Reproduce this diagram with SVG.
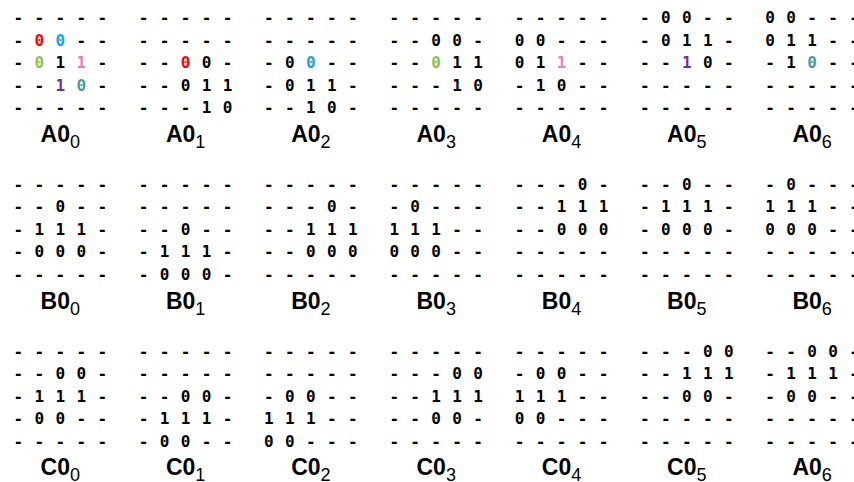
<svg xmlns="http://www.w3.org/2000/svg" width="854" height="482" viewBox="0 0 854 482">
<style>
.g{font-family:"DejaVu Sans Mono","Liberation Mono",monospace;font-weight:bold;font-size:16px;text-anchor:middle;fill:#000}
.lb{font-family:"Liberation Sans",Arial,sans-serif;font-weight:bold;font-size:23px;text-anchor:middle;fill:#000}
.sb{font-weight:normal;font-size:18px}
.r{fill:#ff0000}.b{fill:#1ba1e2}.gr{fill:#8cc152}.p{fill:#e67fbe}.pu{fill:#7030a0}.t{fill:#4a98a4}
</style>
<rect width="854" height="482" fill="#fff"/>
<!-- Row A -->
<g id="A0_0" transform="translate(18.3,0)">
<text class="g" x="0 21 42 63 84" y="23.3">-----</text>
<text class="g" x="0" y="45.8">-<tspan class="r" x="21">0</tspan><tspan class="b" x="42">0</tspan><tspan x="63">-</tspan><tspan x="84">-</tspan></text>
<text class="g" x="0" y="68.3">-<tspan class="gr" x="21">0</tspan><tspan x="42">1</tspan><tspan class="p" x="63">1</tspan><tspan x="84">-</tspan></text>
<text class="g" x="0 21" y="90.8">--<tspan class="pu" x="42">1</tspan><tspan class="t" x="63">0</tspan><tspan x="84">-</tspan></text>
<text class="g" x="0 21 42 63 84" y="113.3">-----</text>
<text class="lb" x="42" y="142">A0<tspan class="sb" dy="6">0</tspan></text>
</g>
<g id="A0_1" transform="translate(143.6,0)">
<text class="g" x="0 21 42 63 84" y="23.3">-----</text>
<text class="g" x="0 21 42 63 84" y="45.8">-----</text>
<text class="g" x="0 21" y="68.3">--<tspan class="r" x="42">0</tspan><tspan x="63 84">0-</tspan></text>
<text class="g" x="0 21 42 63 84" y="90.8">--011</text>
<text class="g" x="0 21 42 63 84" y="113.3">---10</text>
<text class="lb" x="42" y="142">A0<tspan class="sb" dy="6">1</tspan></text>
</g>
<g id="A0_2" transform="translate(268.9,0)">
<text class="g" x="0 21 42 63 84" y="23.3">-----</text>
<text class="g" x="0 21 42 63 84" y="45.8">-----</text>
<text class="g" x="0 21" y="68.3">-0<tspan class="b" x="42">0</tspan><tspan x="63 84">--</tspan></text>
<text class="g" x="0 21 42 63 84" y="90.8">-011-</text>
<text class="g" x="0 21 42 63 84" y="113.3">--10-</text>
<text class="lb" x="42" y="142">A0<tspan class="sb" dy="6">2</tspan></text>
</g>
<g id="A0_3" transform="translate(394.2,0)">
<text class="g" x="0 21 42 63 84" y="23.3">-----</text>
<text class="g" x="0 21 42 63 84" y="45.8">--00-</text>
<text class="g" x="0 21" y="68.3">--<tspan class="gr" x="42">0</tspan><tspan x="63 84">11</tspan></text>
<text class="g" x="0 21 42 63 84" y="90.8">---10</text>
<text class="g" x="0 21 42 63 84" y="113.3">-----</text>
<text class="lb" x="42" y="142">A0<tspan class="sb" dy="6">3</tspan></text>
</g>
<g id="A0_4" transform="translate(519.5,0)">
<text class="g" x="0 21 42 63 84" y="23.3">-----</text>
<text class="g" x="0 21 42 63 84" y="45.8">00---</text>
<text class="g" x="0 21" y="68.3">01<tspan class="p" x="42">1</tspan><tspan x="63 84">--</tspan></text>
<text class="g" x="0 21 42 63 84" y="90.8">-10--</text>
<text class="g" x="0 21 42 63 84" y="113.3">-----</text>
<text class="lb" x="42" y="142">A0<tspan class="sb" dy="6">4</tspan></text>
</g>
<g id="A0_5" transform="translate(644.8,0)">
<text class="g" x="0 21 42 63 84" y="23.3">-00--</text>
<text class="g" x="0 21 42 63 84" y="45.8">-011-</text>
<text class="g" x="0 21" y="68.3">--<tspan class="pu" x="42">1</tspan><tspan x="63 84">0-</tspan></text>
<text class="g" x="0 21 42 63 84" y="90.8">-----</text>
<text class="g" x="0 21 42 63 84" y="113.3">-----</text>
<text class="lb" x="42" y="142">A0<tspan class="sb" dy="6">5</tspan></text>
</g>
<g id="A0_6" transform="translate(770.1,0)">
<text class="g" x="0 21 42 63 84" y="23.3">00---</text>
<text class="g" x="0 21 42 63 84" y="45.8">011--</text>
<text class="g" x="0 21" y="68.3">-1<tspan class="t" x="42">0</tspan><tspan x="63 84">--</tspan></text>
<text class="g" x="0 21 42 63 84" y="90.8">-----</text>
<text class="g" x="0 21 42 63 84" y="113.3">-----</text>
<text class="lb" x="42" y="142">A0<tspan class="sb" dy="6">6</tspan></text>
</g>
<!-- Row B -->
<g id="B0_0" transform="translate(18.3,166.7)">
<text class="g" x="0 21 42 63 84" y="23.3">-----</text>
<text class="g" x="0 21 42 63 84" y="45.8">--0--</text>
<text class="g" x="0 21 42 63 84" y="68.3">-111-</text>
<text class="g" x="0 21 42 63 84" y="90.8">-000-</text>
<text class="g" x="0 21 42 63 84" y="113.3">-----</text>
<text class="lb" x="42" y="142">B0<tspan class="sb" dy="6">0</tspan></text>
</g>
<g id="B0_1" transform="translate(143.6,166.7)">
<text class="g" x="0 21 42 63 84" y="23.3">-----</text>
<text class="g" x="0 21 42 63 84" y="45.8">-----</text>
<text class="g" x="0 21 42 63 84" y="68.3">--0--</text>
<text class="g" x="0 21 42 63 84" y="90.8">-111-</text>
<text class="g" x="0 21 42 63 84" y="113.3">-000-</text>
<text class="lb" x="42" y="142">B0<tspan class="sb" dy="6">1</tspan></text>
</g>
<g id="B0_2" transform="translate(268.9,166.7)">
<text class="g" x="0 21 42 63 84" y="23.3">-----</text>
<text class="g" x="0 21 42 63 84" y="45.8">---0-</text>
<text class="g" x="0 21 42 63 84" y="68.3">--111</text>
<text class="g" x="0 21 42 63 84" y="90.8">--000</text>
<text class="g" x="0 21 42 63 84" y="113.3">-----</text>
<text class="lb" x="42" y="142">B0<tspan class="sb" dy="6">2</tspan></text>
</g>
<g id="B0_3" transform="translate(394.2,166.7)">
<text class="g" x="0 21 42 63 84" y="23.3">-----</text>
<text class="g" x="0 21 42 63 84" y="45.8">-0---</text>
<text class="g" x="0 21 42 63 84" y="68.3">111--</text>
<text class="g" x="0 21 42 63 84" y="90.8">000--</text>
<text class="g" x="0 21 42 63 84" y="113.3">-----</text>
<text class="lb" x="42" y="142">B0<tspan class="sb" dy="6">3</tspan></text>
</g>
<g id="B0_4" transform="translate(519.5,166.7)">
<text class="g" x="0 21 42 63 84" y="23.3">---0-</text>
<text class="g" x="0 21 42 63 84" y="45.8">--111</text>
<text class="g" x="0 21 42 63 84" y="68.3">--000</text>
<text class="g" x="0 21 42 63 84" y="90.8">-----</text>
<text class="g" x="0 21 42 63 84" y="113.3">-----</text>
<text class="lb" x="42" y="142">B0<tspan class="sb" dy="6">4</tspan></text>
</g>
<g id="B0_5" transform="translate(644.8,166.7)">
<text class="g" x="0 21 42 63 84" y="23.3">--0--</text>
<text class="g" x="0 21 42 63 84" y="45.8">-111-</text>
<text class="g" x="0 21 42 63 84" y="68.3">-000-</text>
<text class="g" x="0 21 42 63 84" y="90.8">-----</text>
<text class="g" x="0 21 42 63 84" y="113.3">-----</text>
<text class="lb" x="42" y="142">B0<tspan class="sb" dy="6">5</tspan></text>
</g>
<g id="B0_6" transform="translate(770.1,166.7)">
<text class="g" x="0 21 42 63 84" y="23.3">-0---</text>
<text class="g" x="0 21 42 63 84" y="45.8">111--</text>
<text class="g" x="0 21 42 63 84" y="68.3">000--</text>
<text class="g" x="0 21 42 63 84" y="90.8">-----</text>
<text class="g" x="0 21 42 63 84" y="113.3">-----</text>
<text class="lb" x="42" y="142">B0<tspan class="sb" dy="6">6</tspan></text>
</g>
<!-- Row C -->
<g id="C0_0" transform="translate(18.3,333.4)">
<text class="g" x="0 21 42 63 84" y="23.3">-----</text>
<text class="g" x="0 21 42 63 84" y="45.8">--00-</text>
<text class="g" x="0 21 42 63 84" y="68.3">-111-</text>
<text class="g" x="0 21 42 63 84" y="90.8">-00--</text>
<text class="g" x="0 21 42 63 84" y="113.3">-----</text>
<text class="lb" x="42" y="142">C0<tspan class="sb" dy="6">0</tspan></text>
</g>
<g id="C0_1" transform="translate(143.6,333.4)">
<text class="g" x="0 21 42 63 84" y="23.3">-----</text>
<text class="g" x="0 21 42 63 84" y="45.8">-----</text>
<text class="g" x="0 21 42 63 84" y="68.3">--00-</text>
<text class="g" x="0 21 42 63 84" y="90.8">-111-</text>
<text class="g" x="0 21 42 63 84" y="113.3">-00--</text>
<text class="lb" x="42" y="142">C0<tspan class="sb" dy="6">1</tspan></text>
</g>
<g id="C0_2" transform="translate(268.9,333.4)">
<text class="g" x="0 21 42 63 84" y="23.3">-----</text>
<text class="g" x="0 21 42 63 84" y="45.8">-----</text>
<text class="g" x="0 21 42 63 84" y="68.3">-00--</text>
<text class="g" x="0 21 42 63 84" y="90.8">111--</text>
<text class="g" x="0 21 42 63 84" y="113.3">00---</text>
<text class="lb" x="42" y="142">C0<tspan class="sb" dy="6">2</tspan></text>
</g>
<g id="C0_3" transform="translate(394.2,333.4)">
<text class="g" x="0 21 42 63 84" y="23.3">-----</text>
<text class="g" x="0 21 42 63 84" y="45.8">---00</text>
<text class="g" x="0 21 42 63 84" y="68.3">--111</text>
<text class="g" x="0 21 42 63 84" y="90.8">--00-</text>
<text class="g" x="0 21 42 63 84" y="113.3">-----</text>
<text class="lb" x="42" y="142">C0<tspan class="sb" dy="6">3</tspan></text>
</g>
<g id="C0_4" transform="translate(519.5,333.4)">
<text class="g" x="0 21 42 63 84" y="23.3">-----</text>
<text class="g" x="0 21 42 63 84" y="45.8">-00--</text>
<text class="g" x="0 21 42 63 84" y="68.3">111--</text>
<text class="g" x="0 21 42 63 84" y="90.8">00---</text>
<text class="g" x="0 21 42 63 84" y="113.3">-----</text>
<text class="lb" x="42" y="142">C0<tspan class="sb" dy="6">4</tspan></text>
</g>
<g id="C0_5" transform="translate(644.8,333.4)">
<text class="g" x="0 21 42 63 84" y="23.3">---00</text>
<text class="g" x="0 21 42 63 84" y="45.8">--111</text>
<text class="g" x="0 21 42 63 84" y="68.3">--00-</text>
<text class="g" x="0 21 42 63 84" y="90.8">-----</text>
<text class="g" x="0 21 42 63 84" y="113.3">-----</text>
<text class="lb" x="42" y="142">C0<tspan class="sb" dy="6">5</tspan></text>
</g>
<g id="C_A0_6" transform="translate(770.1,333.4)">
<text class="g" x="0 21 42 63 84" y="23.3">--00-</text>
<text class="g" x="0 21 42 63 84" y="45.8">-111-</text>
<text class="g" x="0 21 42 63 84" y="68.3">-00--</text>
<text class="g" x="0 21 42 63 84" y="90.8">-----</text>
<text class="g" x="0 21 42 63 84" y="113.3">-----</text>
<text class="lb" x="42" y="142">A0<tspan class="sb" dy="6">6</tspan></text>
</g>
</svg>
